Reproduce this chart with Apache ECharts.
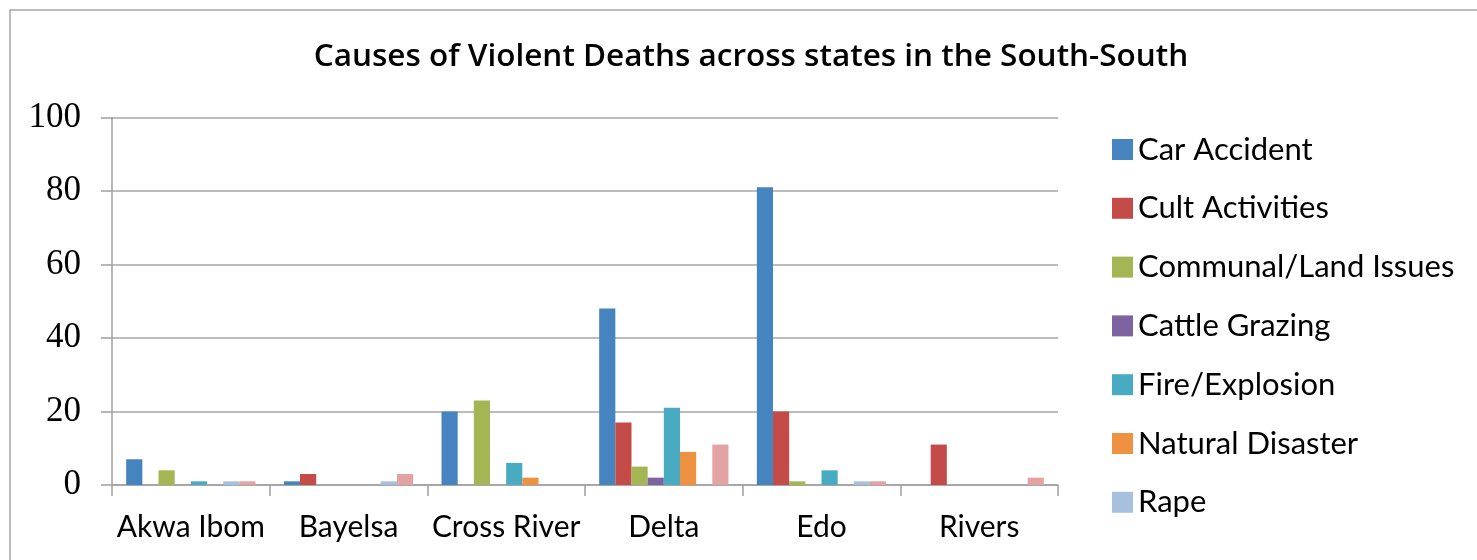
<!DOCTYPE html>
<html>
<head>
<meta charset="utf-8">
<script src="https://cdn.jsdelivr.net/npm/echarts@6/dist/echarts.min.js"></script>
<style>
html,body{margin:0;padding:0;background:#fff;}
#c{width:1477px;height:560px;}
</style>
</head>
<body>
<div id="c"></div>
<script>
var categories = ['Akwa Ibom','Bayelsa','Cross River','Delta','Edo','Rivers'];
var carAccident    = [7, 1, 20, 48, 81, 0];
var cultActivities = [0, 3, 0, 17, 20, 11];
var communalLand   = [4, 0, 23, 5, 1, 0];
var cattleGrazing  = [0, 0, 0, 2, 0, 0];
var fireExplosion  = [1, 0, 6, 21, 4, 0];
var naturalDisaster= [0, 0, 2, 9, 0, 0];
var rape           = [1, 1, 0, 0, 1, 0];
var others         = [1, 3, 0, 11, 1, 2];
var yTicks = [0, 20, 40, 60, 80, 100];

var seriesNames = ['Car Accident','Cult Activities','Communal/Land Issues','Cattle Grazing','Fire/Explosion','Natural Disaster','Rape','Others'];
var seriesData = [carAccident, cultActivities, communalLand, cattleGrazing, fireExplosion, naturalDisaster, rape, others];
var colors = ['#4584BE','#C54B48','#A4B553','#7D64A0','#48ABC2','#EE9140','#A7C0DE','#E2A3A2'];

var sans = 'Lato';
var chart = echarts.init(document.getElementById('c'), null, {renderer:'canvas'});
chart.setOption({
  animation:false,
  color: colors,
  title:{
    text:'Causes of Violent Deaths across states in the South-South',
    left:746, textAlign:'center', top:36,
    textStyle:{fontFamily:'Open Sans', fontSize:31.5, fontWeight:600, color:'#000'}
  },
  legend:{
    data: seriesNames.slice(0,7),
    orient:'vertical',
    left:1107, top:129,
    itemWidth:21, itemHeight:21, itemGap:27.8,
    icon:'rect',
    textStyle:{fontFamily:sans, fontSize:31, color:'#000'}
  },
  graphic:[{
    type:'rect', silent:true,
    shape:{x:10,y:10,width:1500,height:600},
    style:{fill:'none', stroke:'#A6A6A6', lineWidth:1.5}
  }],
  grid:{left:112, right:419, top:117.5, bottom:75, containLabel:false},
  xAxis:{
    type:'category', data:categories,
    axisLine:{lineStyle:{color:'#A0A0A0', width:1.5}},
    axisTick:{show:true, length:11, lineStyle:{color:'#A0A0A0', width:1.5}},
    axisLabel:{fontFamily:sans, fontSize:30, color:'#000', margin:27, interval:0}
  },
  yAxis:{
    type:'value', min:yTicks[0], max:yTicks[yTicks.length-1], interval:20,
    axisLine:{show:true, lineStyle:{color:'#A0A0A0', width:1.5}},
    axisTick:{show:true, length:11, lineStyle:{color:'#A0A0A0', width:1.5}},
    splitLine:{lineStyle:{color:'#A6A6A6', width:1.5}},
    axisLabel:{fontFamily:'Liberation Serif', fontSize:35, color:'#000', margin:31}
  },
  series: seriesNames.map(function(n,i){
    return {name:n, type:'bar', data:seriesData[i], barGap:'0%', barCategoryGap:'18%'};
  })
});
</script>
</body>
</html>
